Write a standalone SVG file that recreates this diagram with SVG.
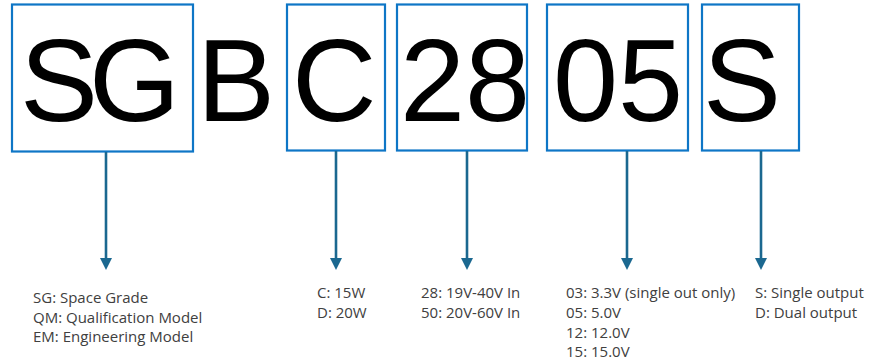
<svg xmlns="http://www.w3.org/2000/svg" width="873" height="364" viewBox="0 0 873 364">
<style>
.box{fill:none;stroke:#0E76C6;stroke-width:2.2}
.big{font-family:"Liberation Sans",Arial,sans-serif;font-size:117px;fill:#000}
.lbl{font-family:"Open Sans","Liberation Sans",sans-serif;font-size:15px;fill:#404040}
.conn line{stroke:#1B6890;stroke-width:2.6}
.conn path{fill:#1B6890}
</style>
<rect width="873" height="364" fill="#fff"/>
<g id="node-sg">
<rect class="box" x="12" y="4.5" width="181" height="147"/>
<text class="big" x="20" y="121" letter-spacing="-9">SG</text>
</g>
<g id="node-b">
<text class="big" x="197" y="121">B</text>
</g>
<g id="node-c">
<rect class="box" x="287" y="4.5" width="98" height="146"/>
<text class="big" x="292" y="121">C</text>
</g>
<g id="node-28">
<rect class="box" x="397" y="4.5" width="130" height="146"/>
<text class="big" x="400" y="121">28</text>
</g>
<g id="node-05">
<rect class="box" x="547" y="4.5" width="141" height="146"/>
<text class="big" x="553" y="121">05</text>
</g>
<g id="node-s">
<rect class="box" x="702" y="4.5" width="97" height="146"/>
<text class="big" x="703" y="121">S</text>
</g>
<g id="connectors" class="conn">
<line x1="106" y1="152" x2="106" y2="260"/><path d="M100,258 L112,258 L106,270 Z"/>
<line x1="336" y1="151" x2="336" y2="260"/><path d="M330,258 L342,258 L336,270 Z"/>
<line x1="467" y1="151" x2="467" y2="260"/><path d="M461,258 L473,258 L467,270 Z"/>
<line x1="627" y1="151" x2="627" y2="260"/><path d="M621,258 L633,258 L627,270 Z"/>
<line x1="761" y1="151" x2="761" y2="260"/><path d="M755,258 L767,258 L761,270 Z"/>
</g>
<g id="label-sg">
<text class="lbl" x="33" y="303">SG: Space Grade</text>
<text class="lbl" x="33" y="322.5">QM: Qualification Model</text>
<text class="lbl" x="33" y="342">EM: Engineering Model</text>
</g>
<g id="label-c">
<text class="lbl" x="317" y="298">C: 15W</text>
<text class="lbl" x="317" y="318">D: 20W</text>
</g>
<g id="label-28">
<text class="lbl" x="421" y="298">28: 19V-40V In</text>
<text class="lbl" x="421" y="318">50: 20V-60V In</text>
</g>
<g id="label-05">
<text class="lbl" x="566" y="298">03: 3.3V (single out only)</text>
<text class="lbl" x="566" y="318">05: 5.0V</text>
<text class="lbl" x="566" y="338">12: 12.0V</text>
<text class="lbl" x="566" y="357">15: 15.0V</text>
</g>
<g id="label-s">
<text class="lbl" x="755" y="298">S: Single output</text>
<text class="lbl" x="755" y="318">D: Dual output</text>
</g>
</svg>
